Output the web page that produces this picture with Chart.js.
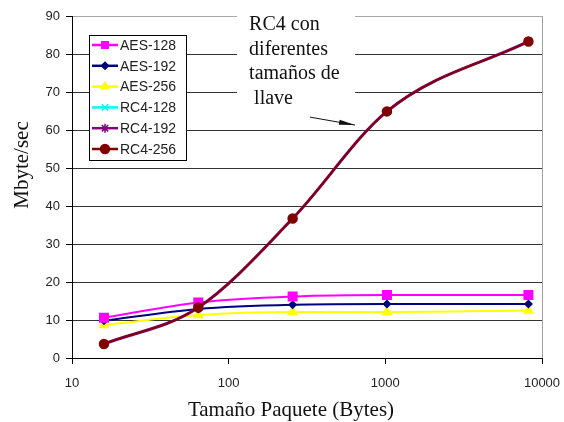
<!DOCTYPE html>
<html>
<head>
<meta charset="utf-8">
<script src="https://cdn.jsdelivr.net/npm/chart.js@4/dist/chart.umd.min.js"></script>
<style>
html,body{margin:0;padding:0;background:#fff;}
#c{display:block;}
</style>
</head>
<body>
<canvas id="c" width="564" height="422"></canvas>
<script>
// ---- data ----
const PACKET_SIZES = [16, 64, 256, 1024, 8192];
const X_TICKS = [10, 100, 1000, 10000];
const Y_TICKS_MAX = 90;
const SERIES_NAMES = ['AES-128', 'AES-192', 'AES-256', 'RC4-128', 'RC4-192', 'RC4-256'];
const AES_128 = [10.6, 14.6, 16.2, 16.6, 16.6];
const AES_192 = [9.8, 12.9, 14.0, 14.2, 14.2];
const AES_256 = [8.7, 11.3, 12.1, 12.1, 12.5];
const RC4_128 = [3.7, 13.3, 36.7, 64.9, 83.3];
const RC4_192 = [3.7, 13.3, 36.7, 64.9, 83.3];
const RC4_256 = [3.7, 13.3, 36.7, 64.9, 83.3];
const X_TITLE = 'Tamaño Paquete (Bytes)';
const Y_TITLE = 'Mbyte/sec';
const NOTE_LINES = ['RC4 con', 'diferentes', 'tamaños de', ' llave'];
const NOTE_ANCHOR = {x: 135, y: 87.6};
const ARROW_FROM = {x: 330, y: 63.4};
const ARROW_TO = {x: 640, y: 61.3};

const styles = [
  {color: '#FF00FF', pointStyle: 'rect', radius: 6, width: 2, order: 1},
  {color: '#000080', pointStyle: 'rectRot', radius: 3.5, width: 2, order: 1},
  {color: '#FFFF00', pointStyle: 'triangle', radius: 5, width: 2, order: 1},
  {color: '#00FFFF', pointStyle: 'crossRot', radius: 4.5, width: 2, order: 0},
  {color: '#800080', pointStyle: 'star', radius: 4.5, width: 3, order: -1},
  {color: '#800000', pointStyle: 'circle', radius: 4.5, width: 1.8, order: -2}
];
const values = [AES_128, AES_192, AES_256, RC4_128, RC4_192, RC4_256];

const datasets = SERIES_NAMES.map((name, i) => ({
  label: name,
  data: PACKET_SIZES.map((x, j) => ({x: x, y: values[i][j]})),
  borderColor: styles[i].color,
  backgroundColor: styles[i].color,
  pointBackgroundColor: styles[i].color,
  pointBorderColor: styles[i].color,
  pointStyle: styles[i].pointStyle,
  pointRadius: styles[i].radius,
  pointBorderWidth: 1.5,
  borderWidth: styles[i].width,
  cubicInterpolationMode: 'monotone',
  order: styles[i].order
}));

const TICK_FONT = {family: '"Liberation Sans", Arial, sans-serif', size: 13};

const decorPlugin = {
  id: 'decor',
  afterDraw(chart) {
    const ctx = chart.ctx;
    const ca = chart.chartArea;
    const xs = chart.scales.x, ys = chart.scales.y;
    ctx.save();
    // right border
    ctx.strokeStyle = '#a0a0a0';
    ctx.lineWidth = 1;
    ctx.beginPath();
    ctx.moveTo(Math.round(ca.right) + 0.5, ca.top);
    ctx.lineTo(Math.round(ca.right) + 0.5, ca.bottom);
    ctx.stroke();

    // annotation
    const nx = xs.getPixelForValue(NOTE_ANCHOR.x);
    const ny = ys.getPixelForValue(NOTE_ANCHOR.y);
    ctx.fillStyle = '#fff';
    ctx.fillRect(nx - 12, 0, 118, ny + 83);
    ctx.fillStyle = '#111';
    ctx.font = '20px "Liberation Serif", "Times New Roman", serif';
    ctx.textBaseline = 'middle';
    ctx.textAlign = 'left';
    NOTE_LINES.forEach((t, i) => ctx.fillText(t, nx, ny + i * 24.5));

    // arrow
    const ax0 = xs.getPixelForValue(ARROW_FROM.x), ay0 = ys.getPixelForValue(ARROW_FROM.y);
    const ax1 = xs.getPixelForValue(ARROW_TO.x), ay1 = ys.getPixelForValue(ARROW_TO.y);
    const ang = Math.atan2(ay1 - ay0, ax1 - ax0);
    ctx.strokeStyle = '#111';
    ctx.lineWidth = 1;
    ctx.beginPath();
    ctx.moveTo(ax0, ay0);
    ctx.lineTo(ax1, ay1);
    ctx.stroke();
    const hl = 16, hw = 2.5;
    ctx.fillStyle = '#111';
    ctx.beginPath();
    ctx.moveTo(ax1, ay1);
    ctx.lineTo(ax1 - hl * Math.cos(ang) - hw * Math.sin(ang), ay1 - hl * Math.sin(ang) + hw * Math.cos(ang));
    ctx.lineTo(ax1 - hl * Math.cos(ang) + hw * Math.sin(ang), ay1 - hl * Math.sin(ang) - hw * Math.cos(ang));
    ctx.closePath();
    ctx.fill();

    // legend
    const lx = ca.left + 17, ly = ca.top + 19, lw = 97, lh = 125;
    ctx.fillStyle = '#fff';
    ctx.fillRect(lx, ly, lw, lh);
    ctx.strokeStyle = '#000';
    ctx.lineWidth = 1;
    ctx.strokeRect(lx + 0.5, ly + 0.5, lw, lh);
    ctx.font = '14px "Liberation Sans", Arial, sans-serif';
    ctx.textBaseline = 'middle';
    chart.data.datasets.forEach((ds, i) => {
      const yy = ly + 10 + i * 20.8;
      ctx.strokeStyle = ds.borderColor;
      ctx.lineWidth = 2.5;
      ctx.beginPath();
      ctx.moveTo(lx + 3, yy);
      ctx.lineTo(lx + 29, yy);
      ctx.stroke();
      ctx.fillStyle = ds.pointBackgroundColor;
      ctx.strokeStyle = ds.pointBorderColor;
      ctx.lineWidth = 1.5;
      Chart.helpers.drawPoint(ctx, {pointStyle: ds.pointStyle, radius: Math.min(ds.pointRadius, 4.5), rotation: 0, borderWidth: 1.5}, lx + 16, yy);
      ctx.fillStyle = '#222';
      ctx.fillText(ds.label, lx + 31, yy + 1);
    });

    // axis titles
    ctx.fillStyle = '#111';
    ctx.font = '21px "Liberation Serif", "Times New Roman", serif';
    ctx.textAlign = 'center';
    ctx.textBaseline = 'middle';
    ctx.fillText(X_TITLE, 291, 410);
    ctx.save();
    ctx.translate(22, 165);
    ctx.rotate(-Math.PI / 2);
    ctx.fillText(Y_TITLE, 0, 0);
    ctx.restore();
    ctx.restore();
  }
};

new Chart(document.getElementById('c'), {
  type: 'line',
  data: {datasets: datasets},
  plugins: [decorPlugin],
  options: {
    responsive: false,
    animation: false,
    devicePixelRatio: 1,
    layout: {padding: {top: 16, right: 22, left: 0, bottom: 0}},
    plugins: {legend: {display: false}, tooltip: {enabled: false}},
    scales: {
      x: {
        type: 'logarithmic',
        min: X_TICKS[0],
        max: X_TICKS[X_TICKS.length - 1],
        afterBuildTicks: (s) => { s.ticks = X_TICKS.map(v => ({value: v})); },
        afterFit: (s) => { s.height = 64; s.paddingLeft = 0; s.paddingRight = 0; },
        ticks: {
          font: TICK_FONT, color: '#222', padding: 12, autoSkip: false, maxRotation: 0,
          callback: (v) => String(v)
        },
        grid: {drawOnChartArea: false, drawTicks: true, tickLength: 6, tickColor: '#000', tickWidth: 1},
        border: {color: '#000', width: 1}
      },
      y: {
        min: 0,
        max: Y_TICKS_MAX,
        afterFit: (s) => { s.width = 72; s.paddingTop = 0; s.paddingBottom = 0; },
        ticks: {stepSize: 10, font: TICK_FONT, color: '#222', padding: 6},
        grid: {
          color: (c) => (c.tick && c.tick.value === Y_TICKS_MAX) ? '#a8a8a8' : '#333',
          lineWidth: 1,
          tickLength: 6,
          tickColor: '#000'
        },
        border: {color: '#000', width: 1}
      }
    }
  }
});
</script>
</body>
</html>
